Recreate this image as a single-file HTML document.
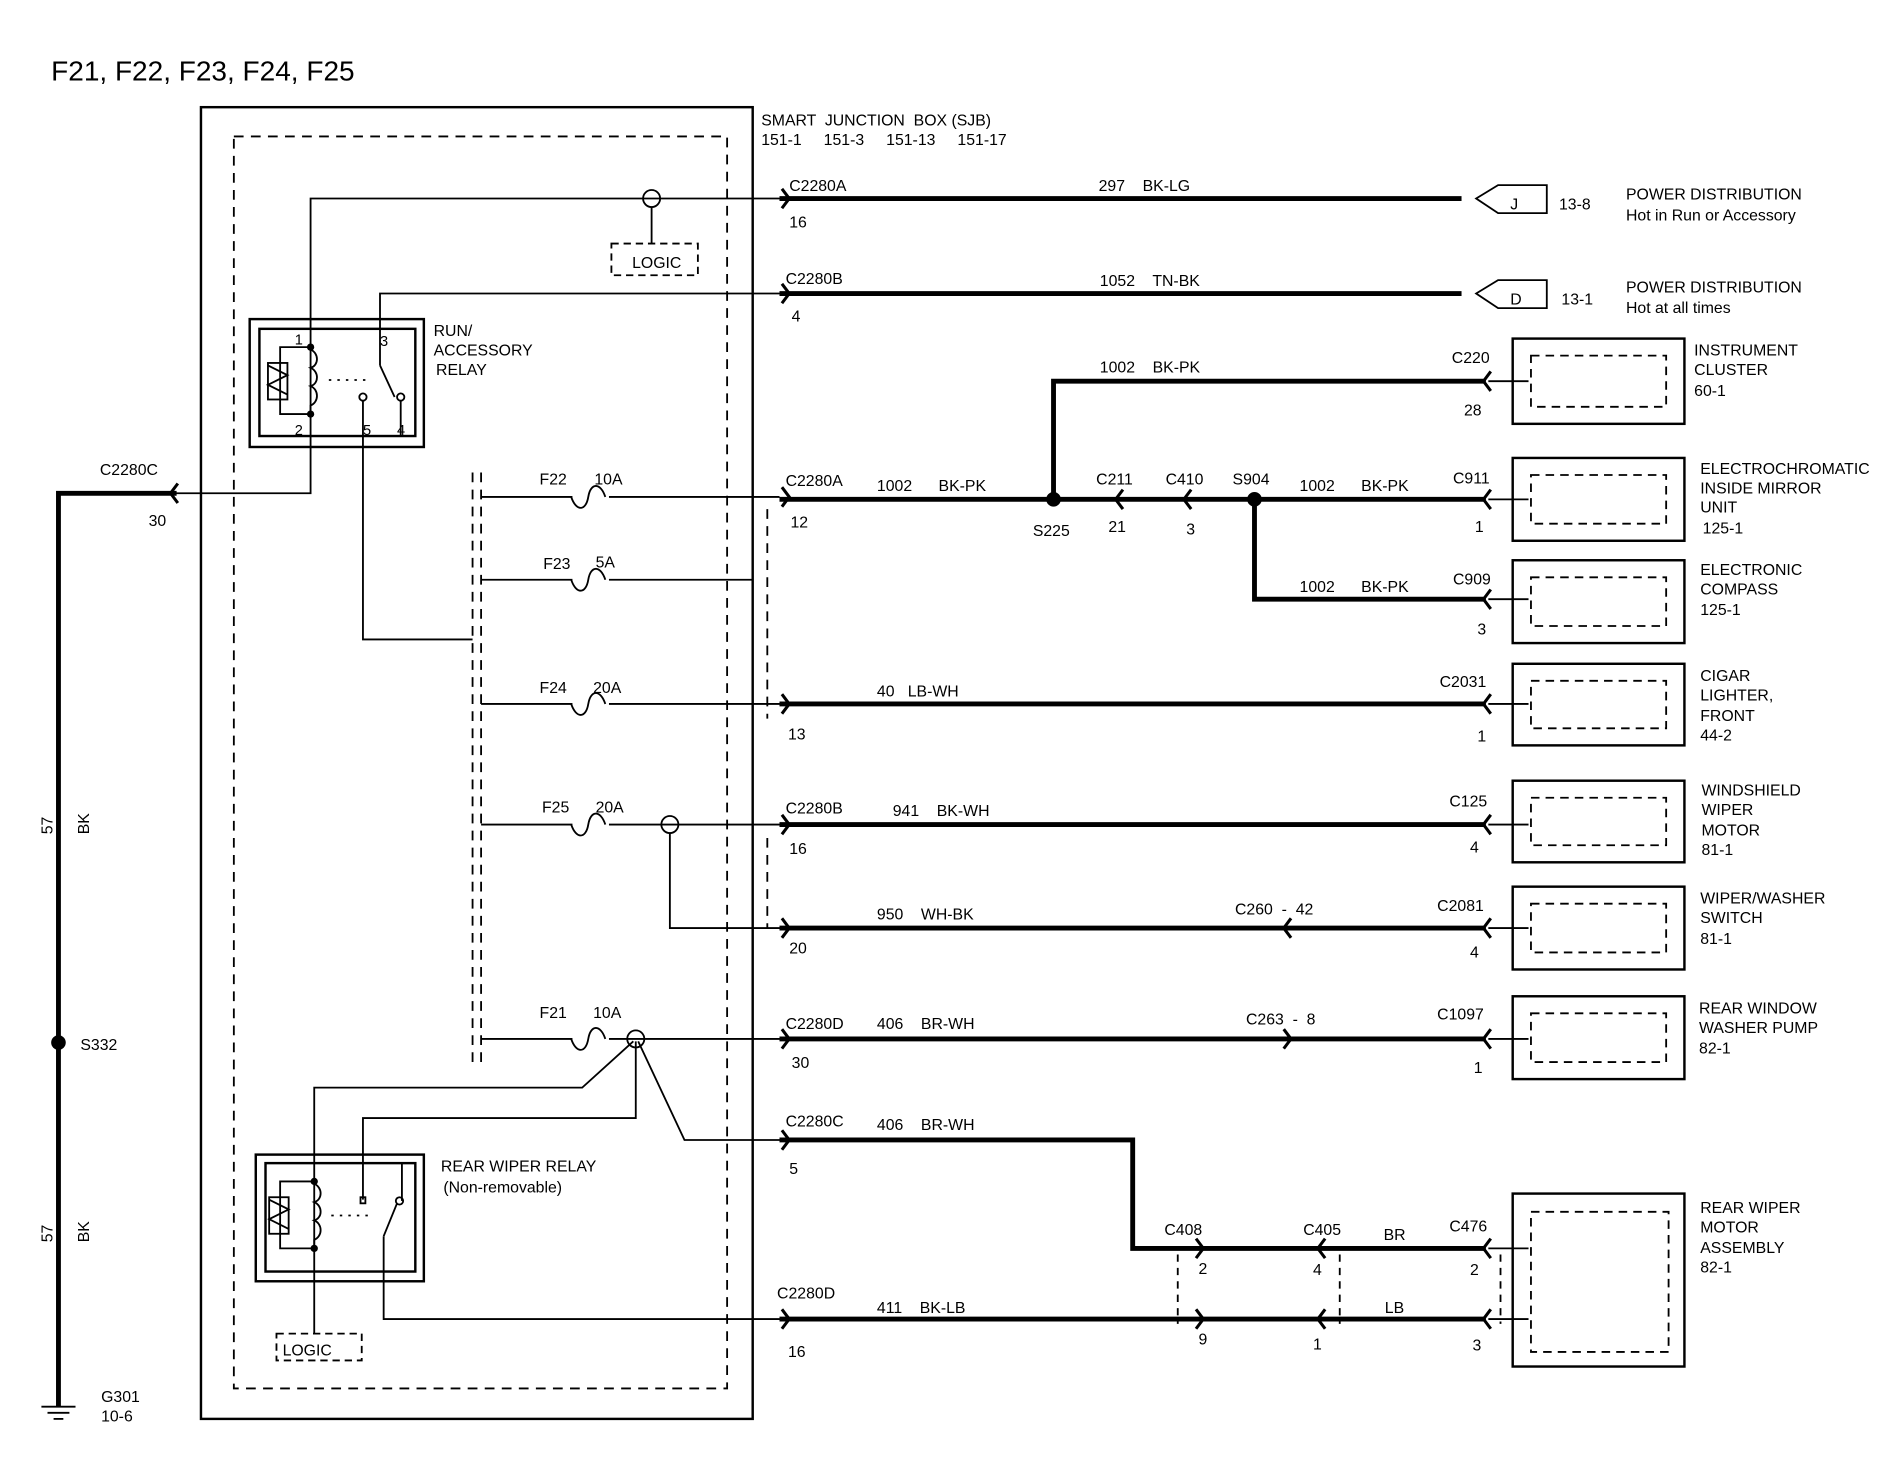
<!DOCTYPE html>
<html><head><meta charset="utf-8"><style>
html,body{margin:0;padding:0;background:#fff;}
svg{display:block;}
text{font-family:"Liberation Sans",Arial,sans-serif;fill:#000;white-space:pre;}
</style></head><body>
<svg width="1900" height="1472" viewBox="0 0 1560 1208.6" preserveAspectRatio="none" xmlns="http://www.w3.org/2000/svg" xml:space="preserve">
<defs>
<g id="ar"><polyline points="-6,-8 0,0 -6,8" fill="none" stroke="#000" stroke-width="2.5"/></g>
<g id="al"><polyline points="6,-8 0,0 6,8" fill="none" stroke="#000" stroke-width="2.5"/></g>
<g id="fuse"><path d="M-16,0 C-12,12 -4,12 -2,0 C0,-12 8,-12 12,0" fill="none" stroke="#000" stroke-width="1.5"/></g>
</defs>
<g font-size="13">
<text x="42" y="66" font-size="23">F21, F22, F23, F24, F25</text>

<rect x="165" y="88" width="453" height="1077" fill="none" stroke="#000" stroke-width="2"/>
<rect x="192" y="112" width="405" height="1028" fill="none" stroke="#000" stroke-width="1.5" stroke-dasharray="8,6"/>
<text x="625" y="103">SMART  JUNCTION  BOX (SJB)</text>
<text x="625" y="119">151-1     151-3     151-13     151-17</text>

<g fill="none" stroke="#000" stroke-width="1.5">
<polyline points="140,405 255,405 255,163 640,163"/>
<circle cx="535" cy="163" r="7"/>
<line x1="535" y1="170" x2="535" y2="200"/>
<rect x="502" y="200" width="71" height="26" stroke-dasharray="6,4"/>
<polyline points="312,300 312,241 640,241"/>
<rect x="205" y="262" width="143" height="105" stroke-width="2"/>
<rect x="213" y="270" width="128" height="88" stroke-width="2"/>
<polyline points="255,285 230,285 230,340 255,340"/>
<rect x="220" y="298" width="16" height="30"/>
<polyline points="220,300 236,308 220,316 236,324"/>
<path d="M255,287 C262,290 262,300 255,302 C262,305 262,315 255,317 C262,320 262,330 255,333 L255,340"/>
<line x1="270" y1="312" x2="302" y2="312" stroke-dasharray="2,5"/>
<line x1="312" y1="300" x2="324" y2="326"/>
<circle cx="329" cy="326" r="3"/>
<line x1="329" y1="329" x2="329" y2="358"/>
<circle cx="298" cy="326" r="3"/>
<polyline points="298,329 298,525 388,525"/>
<line x1="388" y1="388" x2="388" y2="878" stroke-dasharray="8,6"/>
<line x1="395" y1="388" x2="395" y2="878" stroke-dasharray="8,6"/>
<line x1="630" y1="418" x2="630" y2="590" stroke-dasharray="8,6"/>
<line x1="630" y1="688" x2="630" y2="762" stroke-dasharray="8,6"/>
<line x1="395" y1="408" x2="470" y2="408"/><line x1="500" y1="408" x2="640" y2="408"/>
<line x1="395" y1="476" x2="470" y2="476"/><line x1="500" y1="476" x2="618" y2="476"/>
<line x1="395" y1="578" x2="470" y2="578"/><line x1="500" y1="578" x2="640" y2="578"/>
<line x1="395" y1="677" x2="470" y2="677"/><line x1="500" y1="677" x2="640" y2="677"/>
<circle cx="550" cy="677" r="7"/>
<polyline points="550,684 550,762 640,762"/>
<line x1="395" y1="853" x2="470" y2="853"/><line x1="500" y1="853" x2="640" y2="853"/>
<circle cx="522" cy="853" r="7"/>
<polyline points="520,855 478,893 258,893 258,1095"/>
<polyline points="522,855 522,918 298,918 298,985"/>
<polyline points="524,855 562,936 640,936"/>
<polyline points="315,1015 315,1083 640,1083"/>
<rect x="210" y="948" width="138" height="104" stroke-width="2"/>
<rect x="218" y="955" width="123" height="89" stroke-width="2"/>
<polyline points="258,970 230,970 230,1025 258,1025"/>
<rect x="221" y="983" width="16" height="30"/>
<polyline points="221,985 237,993 221,1001 237,1009"/>
<path d="M258,972 C265,975 265,985 258,987 C265,990 265,1000 258,1002 C265,1005 265,1015 258,1018 L258,1025"/>
<line x1="272" y1="998" x2="305" y2="998" stroke-dasharray="2,5"/>
<rect x="296" y="983" width="4" height="5"/>
<line x1="315" y1="1015" x2="326" y2="988"/>
<circle cx="328" cy="986" r="3"/>
<line x1="330" y1="986" x2="330" y2="955"/>
<rect x="227" y="1095" width="70" height="22" stroke-dasharray="6,4"/>
<line x1="1222" y1="313" x2="1255" y2="313"/>
<line x1="1222" y1="410" x2="1255" y2="410"/>
<line x1="1222" y1="492" x2="1255" y2="492"/>
<line x1="1222" y1="578" x2="1255" y2="578"/>
<line x1="1222" y1="677" x2="1255" y2="677"/>
<line x1="1222" y1="762" x2="1255" y2="762"/>
<line x1="1222" y1="853" x2="1255" y2="853"/>
<line x1="1222" y1="1025" x2="1255" y2="1025"/>
<line x1="1222" y1="1083" x2="1255" y2="1083"/>
<polygon points="1212,163 1230,152 1270,152 1270,175 1230,175"/>
<polygon points="1212,241 1230,230 1270,230 1270,253 1230,253"/>
<rect x="1242" y="278" width="141" height="70" stroke-width="2"/>
<rect x="1257" y="292" width="111" height="42" stroke-dasharray="7,5"/>
<rect x="1242" y="376" width="141" height="68" stroke-width="2"/>
<rect x="1257" y="390" width="111" height="40" stroke-dasharray="7,5"/>
<rect x="1242" y="460" width="141" height="68" stroke-width="2"/>
<rect x="1257" y="474" width="111" height="40" stroke-dasharray="7,5"/>
<rect x="1242" y="545" width="141" height="67" stroke-width="2"/>
<rect x="1257" y="559" width="111" height="39" stroke-dasharray="7,5"/>
<rect x="1242" y="641" width="141" height="67" stroke-width="2"/>
<rect x="1257" y="655" width="111" height="39" stroke-dasharray="7,5"/>
<rect x="1242" y="728" width="141" height="68" stroke-width="2"/>
<rect x="1257" y="742" width="111" height="40" stroke-dasharray="7,5"/>
<rect x="1242" y="818" width="141" height="68" stroke-width="2"/>
<rect x="1257" y="832" width="111" height="40" stroke-dasharray="7,5"/>
<rect x="1242" y="980" width="141" height="142" stroke-width="2"/>
<rect x="1257" y="995" width="113" height="115" stroke-dasharray="7,5"/>
<line x1="967" y1="1030" x2="967" y2="1087" stroke-dasharray="6,5"/>
<line x1="1100" y1="1030" x2="1100" y2="1087" stroke-dasharray="6,5"/>
<line x1="1232" y1="1030" x2="1232" y2="1087" stroke-dasharray="6,5"/>
<line x1="34" y1="1155" x2="62" y2="1155"/>
<line x1="39" y1="1160" x2="57" y2="1160"/>
<line x1="44" y1="1165" x2="52" y2="1165"/>
</g>

<g fill="none" stroke="#000" stroke-width="4">
<polyline points="145,405 48,405 48,1155"/>
<line x1="640" y1="163" x2="1200" y2="163"/>
<line x1="640" y1="241" x2="1200" y2="241"/>
<line x1="640" y1="410" x2="1220" y2="410"/>
<polyline points="865,410 865,313 1220,313"/>
<polyline points="1030,410 1030,492 1220,492"/>
<line x1="640" y1="578" x2="1220" y2="578"/>
<line x1="640" y1="677" x2="1220" y2="677"/>
<line x1="640" y1="762" x2="1220" y2="762"/>
<line x1="640" y1="853" x2="1220" y2="853"/>
<polyline points="640,936 930,936 930,1025 1220,1025"/>
<line x1="640" y1="1083" x2="1220" y2="1083"/>
</g>
<circle cx="865" cy="410" r="6"/>
<circle cx="1030" cy="410" r="6"/>
<circle cx="48" cy="856" r="6"/>
<circle cx="255" cy="285" r="3"/><circle cx="255" cy="340" r="3"/>
<circle cx="258" cy="970" r="3"/><circle cx="258" cy="1025" r="3"/>

<use href="#fuse" x="485" y="408"/>
<use href="#fuse" x="485" y="476"/>
<use href="#fuse" x="485" y="578"/>
<use href="#fuse" x="485" y="677"/>
<use href="#fuse" x="485" y="853"/>

<use href="#al" x="140" y="405"/>
<use href="#ar" x="648" y="163"/><use href="#ar" x="648" y="241"/>
<use href="#ar" x="648" y="408"/><use href="#ar" x="648" y="578"/>
<use href="#ar" x="648" y="677"/><use href="#ar" x="648" y="762"/>
<use href="#ar" x="648" y="853"/><use href="#ar" x="648" y="936"/>
<use href="#ar" x="648" y="1083"/>
<use href="#al" x="1218" y="313"/><use href="#al" x="1218" y="410"/>
<use href="#al" x="1218" y="492"/><use href="#al" x="1218" y="578"/>
<use href="#al" x="1218" y="677"/><use href="#al" x="1218" y="762"/>
<use href="#al" x="1218" y="853"/><use href="#al" x="1218" y="1025"/>
<use href="#al" x="1218" y="1083"/>
<use href="#al" x="916" y="410"/><use href="#al" x="972" y="410"/>
<use href="#al" x="1054" y="762"/><use href="#ar" x="1060" y="853"/>
<use href="#ar" x="988" y="1025"/><use href="#al" x="1082" y="1025"/>
<use href="#ar" x="988" y="1083"/><use href="#al" x="1082" y="1083"/>

<text x="356" y="276">RUN/</text><text x="356" y="292">ACCESSORY</text><text x="358" y="308">RELAY</text>
<text x="242" y="283" font-size="12">1</text><text x="242" y="357" font-size="12">2</text>
<text x="312" y="284" font-size="12">3</text><text x="298" y="357" font-size="12">5</text><text x="326" y="357" font-size="12">4</text>
<text x="519" y="220">LOGIC</text>
<text x="232" y="1113">LOGIC</text>
<text x="362" y="962">REAR WIPER RELAY</text>
<text x="364" y="979">(Non-removable)</text>
<text x="82" y="390">C2280C</text><text x="122" y="432">30</text>
<text x="66" y="862">S332</text>
<text x="83" y="1151">G301</text><text x="83" y="1167">10-6</text>
<text transform="translate(43,685) rotate(-90)">57</text>
<text transform="translate(73,685) rotate(-90)">BK</text>
<text transform="translate(43,1020) rotate(-90)">57</text>
<text transform="translate(73,1020) rotate(-90)">BK</text>

<text x="443" y="398">F22</text><text x="488" y="398">10A</text>
<text x="446" y="467">F23</text><text x="489" y="466">5A</text>
<text x="443" y="569">F24</text><text x="487" y="569">20A</text>
<text x="445" y="667">F25</text><text x="489" y="667">20A</text>
<text x="443" y="836">F21</text><text x="487" y="836">10A</text>

<text x="648" y="157">C2280A</text><text x="648" y="187">16</text>
<text x="902" y="157">297    BK-LG</text>
<text x="1240" y="172">J</text><text x="1280" y="172">13-8</text>
<text x="1335" y="164">POWER DISTRIBUTION</text><text x="1335" y="181">Hot in Run or Accessory</text>
<text x="645" y="233">C2280B</text><text x="650" y="264">4</text>
<text x="903" y="235">1052    TN-BK</text>
<text x="1240" y="250">D</text><text x="1282" y="250">13-1</text>
<text x="1335" y="240">POWER DISTRIBUTION</text><text x="1335" y="257">Hot at all times</text>

<text x="903" y="306">1002    BK-PK</text><text x="1192" y="298">C220</text><text x="1202" y="341">28</text>
<text x="1391" y="292">INSTRUMENT</text><text x="1391" y="308">CLUSTER</text><text x="1391" y="325">60-1</text>

<text x="645" y="399">C2280A</text><text x="649" y="433">12</text>
<text x="720" y="403">1002      BK-PK</text>
<text x="848" y="440">S225</text>
<text x="900" y="398">C211</text><text x="910" y="437">21</text>
<text x="957" y="398">C410</text><text x="974" y="439">3</text>
<text x="1012" y="398">S904</text>
<text x="1067" y="403">1002      BK-PK</text><text x="1193" y="397">C911</text><text x="1211" y="437">1</text>
<text x="1396" y="389">ELECTROCHROMATIC</text><text x="1396" y="405">INSIDE MIRROR</text><text x="1396" y="421">UNIT</text><text x="1398" y="438">125-1</text>
<text x="1067" y="486">1002      BK-PK</text><text x="1193" y="480">C909</text><text x="1213" y="521">3</text>
<text x="1396" y="472">ELECTRONIC</text><text x="1396" y="488">COMPASS</text><text x="1396" y="505">125-1</text>

<text x="720" y="572">40   LB-WH</text><text x="647" y="607">13</text>
<text x="1182" y="564">C2031</text><text x="1213" y="609">1</text>
<text x="1396" y="559">CIGAR</text><text x="1396" y="575">LIGHTER,</text><text x="1396" y="592">FRONT</text><text x="1396" y="608">44-2</text>

<text x="645" y="668">C2280B</text><text x="648" y="701">16</text>
<text x="733" y="670">941    BK-WH</text>
<text x="1190" y="662">C125</text><text x="1207" y="700">4</text>
<text x="1397" y="653">WINDSHIELD</text><text x="1397" y="669">WIPER</text><text x="1397" y="686">MOTOR</text><text x="1397" y="702">81-1</text>

<text x="720" y="755">950    WH-BK</text><text x="648" y="783">20</text>
<text x="1014" y="751">C260  -  42</text>
<text x="1180" y="748">C2081</text><text x="1207" y="786">4</text>
<text x="1396" y="742">WIPER/WASHER</text><text x="1396" y="758">SWITCH</text><text x="1396" y="775">81-1</text>

<text x="645" y="845">C2280D</text><text x="650" y="877">30</text>
<text x="720" y="845">406    BR-WH</text>
<text x="1023" y="841">C263  -  8</text>
<text x="1180" y="837">C1097</text><text x="1210" y="881">1</text>
<text x="1395" y="832">REAR WINDOW</text><text x="1395" y="848">WASHER PUMP</text><text x="1395" y="865">82-1</text>

<text x="645" y="925">C2280C</text><text x="648" y="964">5</text>
<text x="720" y="928">406    BR-WH</text>
<text x="956" y="1014">C408</text><text x="984" y="1046">2</text>
<text x="1070" y="1014">C405</text><text x="1078" y="1047">4</text>
<text x="1136" y="1018">BR</text>
<text x="1190" y="1011">C476</text><text x="1207" y="1047">2</text>
<text x="1396" y="996">REAR WIPER</text><text x="1396" y="1012">MOTOR</text><text x="1396" y="1029">ASSEMBLY</text><text x="1396" y="1045">82-1</text>

<text x="638" y="1066">C2280D</text><text x="647" y="1114">16</text>
<text x="720" y="1078">411    BK-LB</text>
<text x="1137" y="1078">LB</text>
<text x="984" y="1104">9</text><text x="1078" y="1108">1</text><text x="1209" y="1109">3</text>
</g>
</svg>
</body></html>
